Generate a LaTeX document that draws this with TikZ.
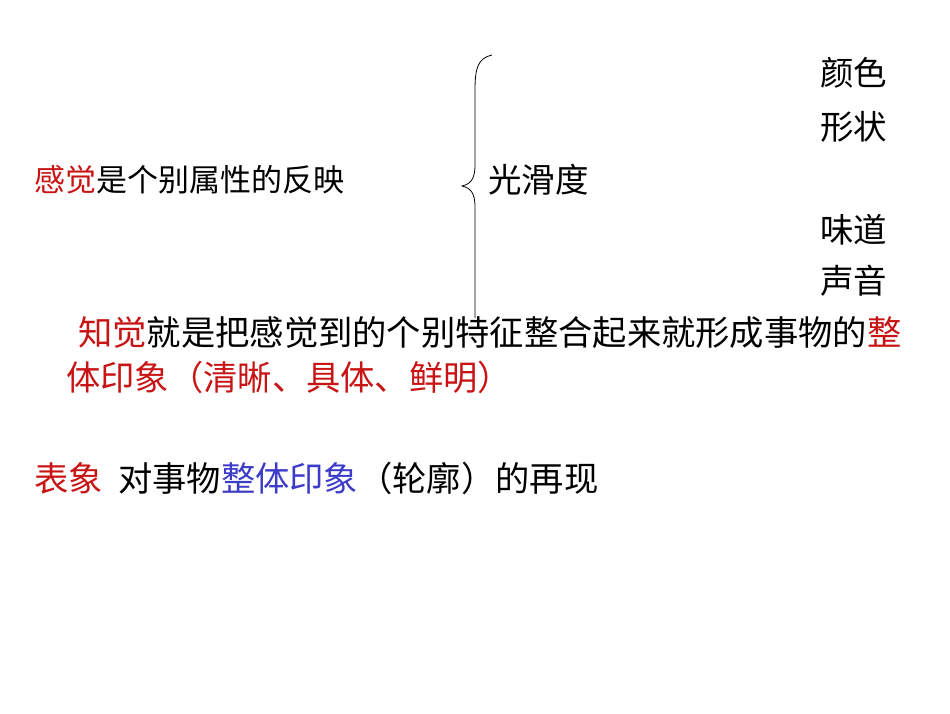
\documentclass[tikz,border=0pt]{standalone}
\usepackage{fontspec}
\newfontfamily\cjk{Noto Sans CJK SC}
\definecolor{rd}{RGB}{200,20,20}
\definecolor{bl}{RGB}{60,60,200}
\begin{document}
\begin{tikzpicture}[x=1pt,y=-1pt]
\tikzset{t/.style={anchor=west,inner sep=0pt,font=\cjk\fontsize{33.5}{36}\selectfont},
ts/.style={t,font=\cjk\fontsize{31}{34}\selectfont},
tl/.style={t,font=\cjk\fontsize{34.3}{37}\selectfont}}
\useasboundingbox (0,0) rectangle (950,713);
\node[ts] (a) at (34,180) {\textcolor{rd}{感觉}是个别属性的反映};
\node[t] (b) at (488,180) {光滑度};
\node[t] (c1) at (820,73) {颜色};
\node[t] (c2) at (820,127) {形状};
\node[t] (c3) at (820,230) {味道};
\node[t] (c4) at (820,281) {声音};
\node[tl] (d) at (78,333) {\textcolor{rd}{知觉}就是把感觉到的个别特征整合起来就形成事物的\textcolor{rd}{整}};
\node[tl] (e) at (66,377) {\textcolor{rd}{体印象（清晰、具体、鲜明）}};
\node[tl] (f) at (34,478) {\textcolor{rd}{表象}\ \ 对事物\textcolor{bl}{整体印象}（轮廓）的再现};
\draw[line width=0.8pt] (492,55) .. controls (478,58) and (475,68) .. (475,90) -- (475,165) .. controls (475,180) and (470,184) .. (462,186) .. controls (470,188) and (475,192) .. (475,207) -- (475,318);
\end{tikzpicture}
\end{document}
